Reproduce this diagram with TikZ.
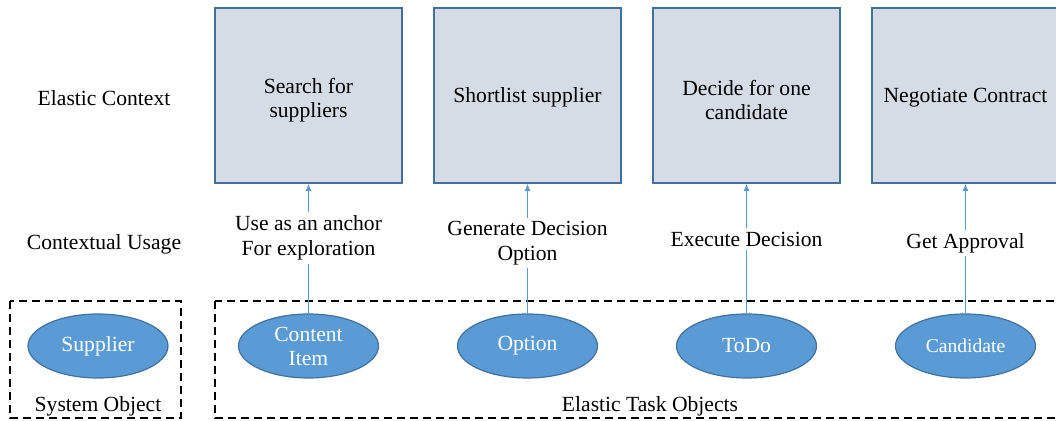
\documentclass[tikz,border=0pt]{standalone}
\usepackage{fontspec}
\setmainfont{Liberation Serif}
\usetikzlibrary{positioning,arrows.meta,shapes.geometric}
\definecolor{ctxfill}{HTML}{D6DCE5}
\definecolor{ctxline}{HTML}{41719C}
\definecolor{objfill}{HTML}{5B9BD5}
\tikzset{
ctxbox/.style={
  draw=ctxline,
  line width=0.8pt,
  fill=ctxfill,
  minimum width=93.5pt,
  minimum height=87.5pt,
  align=center,
  font=\fontsize{10.8}{12}\selectfont
  },
objell/.style={
  ellipse,
  draw=ctxline,
  line width=0.6pt,
  fill=objfill,
  text=white,
  minimum width=70pt,
  minimum height=32pt,
  inner sep=0pt,
  align=center,
  font=\fontsize{10.8}{12}\selectfont
  },
usage/.style={
  align=center,
  inner sep=1.5pt,
  font=\fontsize{10.8}{12.5}\selectfont
  },
rowlbl/.style={
  align=center,
  font=\fontsize{10.8}{12}\selectfont
  },
grp/.style={
  draw,
  dash pattern=on 4pt off 2.5pt,
  line width=0.6pt
  },
link/.style={
  draw=objfill,
  line width=0.5pt
  }
}

\begin{document}
\begin{tikzpicture}[x=0.5pt,y=-0.5pt,>={Latex[length=3.5pt,width=3pt]}]
\useasboundingbox (0,0) rectangle (1056,421);

% row labels
\node[rowlbl] (ctx) at (104,98) {Elastic Context};
\node[rowlbl] (use) at (104,244) {Contextual Usage};

% dashed groups
\draw[grp] (10,301) rectangle (181,418);
\draw[grp] (215,301) rectangle (1070,418);
\node[rowlbl] (sysobj) at (98,406) {System Object};
\node[rowlbl] (taskobj) at (650,406) {Elastic Task Objects};

% contexts
\node[ctxbox] (search) at (308.5,95.5) {};
\node[ctxbox] (short) at (527.5,95.5) {};
\node[ctxbox] (decide) at (746.5,95.5) {};
\node[ctxbox] (nego) at (965.5,95.5) {};
\node[rowlbl] (searchtxt) at ([yshift=-2.5pt]search.center) {Search for\\suppliers};
\node[rowlbl] (shorttxt) at ([yshift=-1pt]short.center) {Shortlist supplier};
\node[rowlbl] (decidetxt) at ([yshift=-2.5pt]decide.center) {Decide for one\\candidate};
\node[rowlbl] (negotxt) at ([yshift=-1pt]nego.center) {Negotiate Contract};

% objects
\node[objell] (supplier) at (98,346) {Supplier};
\node[objell] (content) at (308.5,346) {Content\\Item};
\node[objell] (option) at (527.5,346) {Option};
\node[objell] (todo) at (746.5,346) {ToDo};
\node[objell,font=\fontsize{9.8}{11}\selectfont] (cand) at (965.5,346) {Candidate};

% usages
\node[usage] (anchor) at (308.5,238) {Use as an anchor\\For exploration};
\node[usage] (gen) at (527.5,243) {Generate Decision\\Option};
\node[usage] (exec) at (746.5,239) {Execute Decision};
\node[usage] (appr) at (965.5,243) {Get Approval};

\draw[link] (content.north) -- (anchor.south);
\draw[link,->] (anchor.north) -- (search.south);
\draw[link] (option.north) -- (gen.south);
\draw[link,->] (gen.north) -- (short.south);
\draw[link] (todo.north) -- (exec.south);
\draw[link,->] (exec.north) -- (decide.south);
\draw[link] (cand.north) -- (appr.south);
\draw[link,->] (appr.north) -- (nego.south);
\end{tikzpicture}
\end{document}
